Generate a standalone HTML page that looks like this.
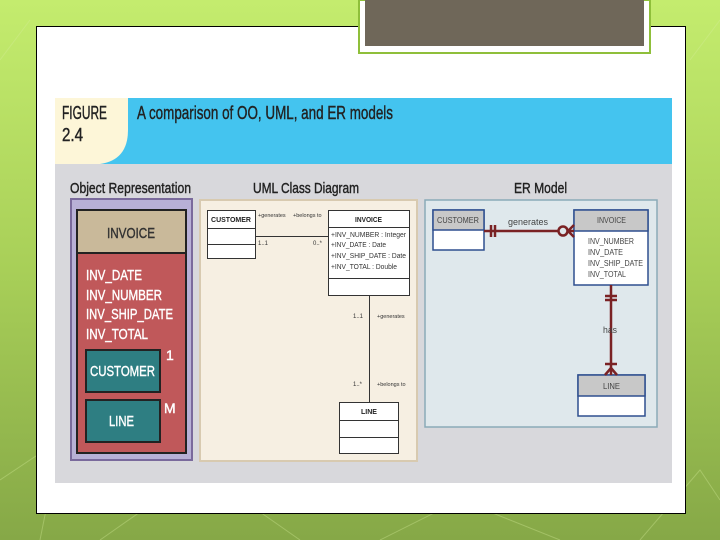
<!DOCTYPE html>
<html><head><style>
html,body{margin:0;padding:0;width:720px;height:540px;overflow:hidden}
svg text{font-family:"Liberation Sans",sans-serif}
</style></head><body>
<svg width="720" height="540" viewBox="0 0 720 540" xmlns="http://www.w3.org/2000/svg">
<defs>
<linearGradient id="bg" x1="0" y1="0" x2="0" y2="1">
<stop offset="0" stop-color="#c4ec6e"/><stop offset="0.5" stop-color="#a8cf58"/><stop offset="1" stop-color="#86a847"/>
</linearGradient>
</defs>
<rect width="720" height="540" fill="url(#bg)"/>
<g stroke="#d6ee9e" stroke-opacity="0.35" stroke-width="1" fill="none">
<path d="M0 480 L60 440 L40 540 M100 540 L200 470 L300 540 M380 540 L460 500 L560 540 M640 540 L700 470 L720 500 M0 60 L30 20 M690 60 L720 20"/>
</g>
<rect x="36.5" y="26.5" width="649" height="487" fill="#fff" stroke="#000" stroke-width="1"/>
<rect x="359" y="0" width="291" height="53" fill="#fff" stroke="#8fbf3a" stroke-width="2"/>
<rect x="365" y="0" width="279" height="46" fill="#6f6759"/>
<!-- figure -->
<rect x="55" y="98" width="617" height="66" fill="#44c4ef"/>
<path d="M55 98 H128 V130 Q128 160 100 164 H55 Z" fill="#fdf6d8"/>
<rect x="55" y="164" width="617" height="319" fill="#d8d8dc"/>
<g stroke="#222" stroke-width="0.4">
<text x="62" y="119" font-size="18" fill="#222" textLength="45" lengthAdjust="spacingAndGlyphs">FIGURE</text>
<text x="62" y="141" font-size="18" fill="#222" textLength="21" lengthAdjust="spacingAndGlyphs">2.4</text>
<text x="137" y="119" font-size="18" fill="#222" textLength="256" lengthAdjust="spacingAndGlyphs">A comparison of OO, UML, and ER models</text>
<text x="70" y="193" font-size="15" fill="#222" textLength="121" lengthAdjust="spacingAndGlyphs">Object Representation</text>
<text x="253" y="193" font-size="15" fill="#222" textLength="106" lengthAdjust="spacingAndGlyphs">UML Class Diagram</text>
<text x="514" y="193" font-size="15" fill="#222" textLength="53" lengthAdjust="spacingAndGlyphs">ER Model</text>
</g>
<!-- object rep -->
<rect x="71" y="199" width="121" height="261" fill="#b8b0d6" stroke="#7a6a9c" stroke-width="2"/>
<rect x="77" y="210" width="109" height="43" fill="#c9b99a" stroke="#222" stroke-width="2"/>
<rect x="77" y="253" width="109" height="200" fill="#c0585a" stroke="#222" stroke-width="2"/>
<text x="107" y="238" font-size="15" fill="#333" stroke="#333" stroke-width="0.4" textLength="48" lengthAdjust="spacingAndGlyphs">INVOICE</text>
<g font-size="15" fill="#fff" stroke="#fff" stroke-width="0.4">
<text x="86" y="280" textLength="56" lengthAdjust="spacingAndGlyphs">INV_DATE</text>
<text x="86" y="300" textLength="76" lengthAdjust="spacingAndGlyphs">INV_NUMBER</text>
<text x="86" y="319" textLength="87" lengthAdjust="spacingAndGlyphs">INV_SHIP_DATE</text>
<text x="86" y="339" textLength="62" lengthAdjust="spacingAndGlyphs">INV_TOTAL</text>
</g>
<rect x="86" y="350" width="74" height="42" fill="#2e7e82" stroke="#222" stroke-width="2"/>
<rect x="86" y="400" width="74" height="42" fill="#2e7e82" stroke="#222" stroke-width="2"/>
<g font-size="15" fill="#fff" stroke="#fff" stroke-width="0.4">
<text x="90" y="376" textLength="65" lengthAdjust="spacingAndGlyphs">CUSTOMER</text>
<text x="109" y="426" textLength="25" lengthAdjust="spacingAndGlyphs">LINE</text>
<text x="166" y="360" font-size="14">1</text>
<text x="164" y="413" font-size="14">M</text>
</g>
<!-- UML -->
<rect x="200" y="200" width="217" height="261" fill="#f6efe2" stroke="#d8cab0" stroke-width="2"/>
<g fill="#fff" stroke="#333" stroke-width="1">
<rect x="207.5" y="210.5" width="48" height="18"/><rect x="207.5" y="228.5" width="48" height="16"/><rect x="207.5" y="244.5" width="48" height="14"/>
<rect x="328.5" y="210.5" width="81" height="17"/><rect x="328.5" y="227.5" width="81" height="51"/><rect x="328.5" y="278.5" width="81" height="17"/>
<rect x="339.5" y="402.5" width="59" height="18"/><rect x="339.5" y="420.5" width="59" height="17"/><rect x="339.5" y="437.5" width="59" height="16"/>
</g>
<path d="M255 236.5 H328 M369.5 295 V402" stroke="#333" stroke-width="1"/>
<g font-size="7" fill="#222" font-weight="bold">
<text x="211" y="222" textLength="40" lengthAdjust="spacingAndGlyphs">CUSTOMER</text>
<text x="355" y="222" textLength="27" lengthAdjust="spacingAndGlyphs">INVOICE</text>
<text x="361" y="414" textLength="16" lengthAdjust="spacingAndGlyphs">LINE</text>
</g>
<g font-size="7" fill="#333">
<text x="331" y="237" textLength="75" lengthAdjust="spacingAndGlyphs">+INV_NUMBER : Integer</text>
<text x="331" y="247" textLength="55" lengthAdjust="spacingAndGlyphs">+INV_DATE : Date</text>
<text x="331" y="258" textLength="75" lengthAdjust="spacingAndGlyphs">+INV_SHIP_DATE : Date</text>
<text x="331" y="269" textLength="66" lengthAdjust="spacingAndGlyphs">+INV_TOTAL : Double</text>
<text x="258" y="217" font-size="5.5">+generates</text>
<text x="293" y="217" font-size="5.5">+belongs to</text>
<text x="258" y="245" font-size="6">1..1</text>
<text x="313" y="245" font-size="6">0..*</text>
<text x="353" y="318" font-size="6">1..1</text>
<text x="377" y="318" font-size="5.5">+generates</text>
<text x="353" y="386" font-size="6">1..*</text>
<text x="377" y="386" font-size="5.5">+belongs to</text>
</g>
<!-- ER -->
<rect x="425" y="200" width="232" height="227" fill="#dfe8ec" stroke="#8aaab8" stroke-width="1.5"/>
<g stroke="#2f4f8f" stroke-width="1.5">
<rect x="433" y="210" width="51" height="40" fill="#fff"/><rect x="433" y="210" width="51" height="20" fill="#c8c8c8"/>
<rect x="574" y="210" width="74" height="75" fill="#fff"/><rect x="574" y="210" width="74" height="21" fill="#c8c8c8"/>
<rect x="578" y="375" width="67" height="41" fill="#fff"/><rect x="578" y="375" width="67" height="21" fill="#c8c8c8"/>
</g>
<g stroke="#7a2224" stroke-width="2.5" fill="none">
<path d="M484 231 H574"/>
<path d="M491 225 V237 M495 225 V237"/>
<circle cx="563" cy="231" r="4.5" fill="#dfe8ec"/>
<path d="M568 231 L574 225 M568 231 L574 237"/>
<path d="M611 285 V375"/>
<path d="M605 296 H617 M605 300 H617 M605 364 H617"/>
<path d="M611 368 L605 375 M611 368 L617 375"/>
</g>
<g font-size="8" fill="#444">
<text x="437" y="223" textLength="42" lengthAdjust="spacingAndGlyphs">CUSTOMER</text>
<text x="597" y="223" textLength="29" lengthAdjust="spacingAndGlyphs">INVOICE</text>
<text x="603" y="389" textLength="17" lengthAdjust="spacingAndGlyphs">LINE</text>
<text x="508" y="225" font-size="9" textLength="40" lengthAdjust="spacingAndGlyphs">generates</text>
<text x="603" y="333" font-size="9" textLength="14" lengthAdjust="spacingAndGlyphs">has</text>
<text x="588" y="244" textLength="46" lengthAdjust="spacingAndGlyphs">INV_NUMBER</text>
<text x="588" y="255" textLength="35" lengthAdjust="spacingAndGlyphs">INV_DATE</text>
<text x="588" y="266" textLength="55" lengthAdjust="spacingAndGlyphs">INV_SHIP_DATE</text>
<text x="588" y="277" textLength="38" lengthAdjust="spacingAndGlyphs">INV_TOTAL</text>
</g>
</svg>
</body></html>
